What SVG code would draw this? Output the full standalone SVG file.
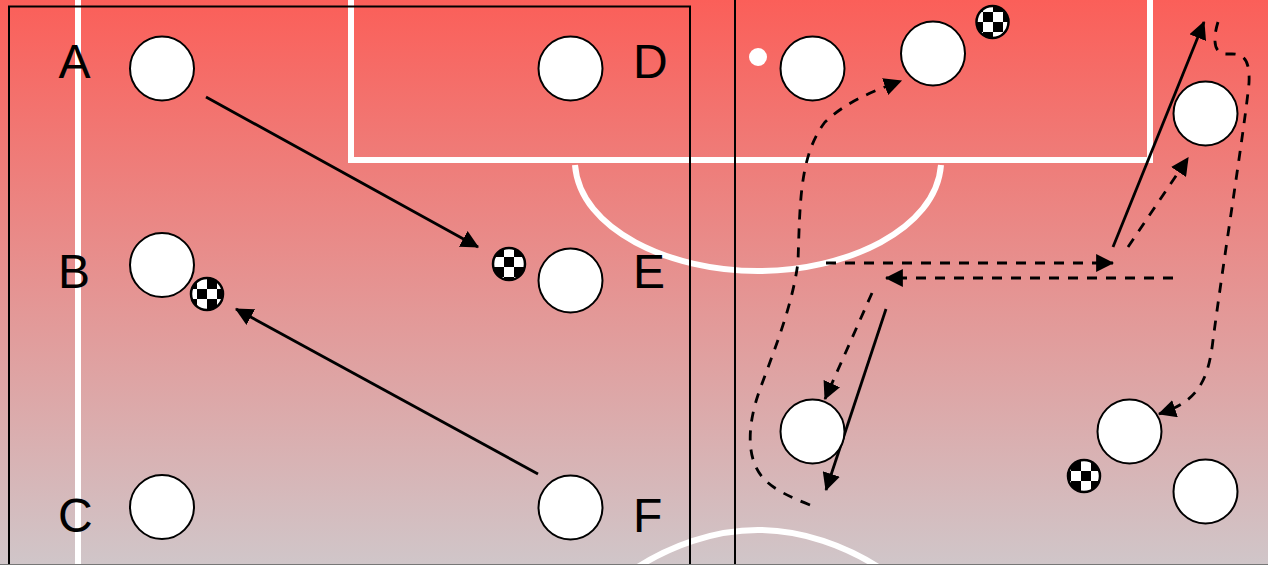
<svg xmlns="http://www.w3.org/2000/svg" width="1268" height="565" viewBox="0 0 1268 565">
<style>
.p{fill:#fff;stroke:#000;stroke-width:2}
.w{fill:none;stroke:#fff;stroke-width:6}
.s{fill:none;stroke:#000;stroke-width:2.8;marker-end:url(#a)}
.d{fill:none;stroke:#000;stroke-width:2.8;stroke-dasharray:10 9;marker-end:url(#a)}
.b{stroke:#000;stroke-width:2.5}
.t{font-family:"Liberation Sans",Arial,sans-serif;font-size:48px;fill:#000}
</style>
<defs>
<linearGradient id="bg" x1="0" y1="0" x2="0" y2="1"><stop offset="0" stop-color="#fb5f59"/><stop offset="1" stop-color="#d0c6c9"/></linearGradient>
<marker id="a" markerUnits="userSpaceOnUse" markerWidth="18" markerHeight="18" viewBox="0 0 16 16" refX="15" refY="8" orient="auto"><path d="M0 0L16 8L0 16Z" fill="#000"/></marker>
<pattern id="c1" patternUnits="userSpaceOnUse" width="20" height="20" x="504" y="257"><rect width="20" height="20" fill="#fff"/><rect width="10" height="10" fill="#000"/><rect x="10" y="10" width="10" height="10" fill="#000"/></pattern>
<pattern id="c2" patternUnits="userSpaceOnUse" width="20" height="20" x="983" y="12"><rect width="20" height="20" fill="#fff"/><rect width="10" height="10" fill="#000"/><rect x="10" y="10" width="10" height="10" fill="#000"/></pattern>
<pattern id="c3" patternUnits="userSpaceOnUse" width="20" height="20" x="197" y="289"><rect width="20" height="20" fill="#fff"/><rect width="10" height="10" fill="#000"/><rect x="10" y="10" width="10" height="10" fill="#000"/></pattern>
<pattern id="c4" patternUnits="userSpaceOnUse" width="20" height="20" x="1081" y="471"><rect width="20" height="20" fill="#fff"/><rect width="10" height="10" fill="#000"/><rect x="10" y="10" width="10" height="10" fill="#000"/></pattern>
</defs>
<rect id="field" width="1268" height="565" fill="url(#bg)"/>
<g id="markings">
<path class="w" d="M78 0V565"/>
<path class="w" d="M351 0V160H1150V0"/>
<path class="w" d="M575 165C580 230 670 271 758 271C846 271 936 230 941 165"/>
<path class="w" d="M630 572C670 545 715 530 758 530C801 530 846 545 886 572"/>
<circle cx="758" cy="57" r="9" fill="#fff"/>
</g>
<rect id="frame" x="9" y="6.500" width="681" height="565" fill="none" stroke="#000" stroke-width="2"/>
<path id="divider" d="M735 0V565" stroke="#000" stroke-width="2" fill="none"/>
<path id="baseline" d="M0 564.500H1268" stroke="#777" stroke-width="1" fill="none"/>
<g id="connectors">
<path class="s" d="M206 97L478 247"/>
<path class="s" d="M538 474L236 309"/>
<path class="s" d="M1113 247L1204 22"/>
<path class="s" d="M886 309L826 490"/>
<path class="d" d="M1128 247L1188 158"/>
<path class="d" d="M826 263H1113"/>
<path class="d" d="M1173 278H886"/>
<path class="d" d="M872 293L825 399"/>
<path class="d" d="M810 505C790 497 775 490 765 480C745 460 748 425 758 395C770 360 792 310 798 262C800 200 800 155 825 122C845 103 870 92 901 81"/>
<path class="d" d="M1218 22C1213 38 1213 54 1226 54H1232C1245 54 1250 62 1249 83C1245 125 1225 250 1213 340C1208 385 1195 402 1159 414"/>
</g>
<g id="players-left">
<g id="node-a"><circle class="p" cx="162" cy="68.500" r="32"/><text class="t" x="58.500" y="78">A</text></g>
<g id="node-b"><circle class="p" cx="162" cy="265" r="32"/><text class="t" x="58" y="288">B</text></g>
<g id="node-c"><circle class="p" cx="162" cy="507" r="32"/><text class="t" x="58" y="532">C</text></g>
<g id="node-d"><circle class="p" cx="570.500" cy="68.500" r="32"/><text class="t" x="633" y="78">D</text></g>
<g id="node-e"><circle class="p" cx="570.500" cy="280.500" r="32"/><text class="t" x="633" y="288">E</text></g>
<g id="node-f"><circle class="p" cx="570.500" cy="507.500" r="32"/><text class="t" x="633" y="532">F</text></g>
</g>
<g id="players-right">
<circle id="r1" class="p" cx="812.500" cy="68.500" r="32"/>
<circle id="r2" class="p" cx="933" cy="53.500" r="32"/>
<circle id="r3" class="p" cx="1205.500" cy="113.500" r="32"/>
<circle id="r4" class="p" cx="812.500" cy="431.500" r="32"/>
<circle id="r5" class="p" cx="1129.500" cy="431.500" r="32"/>
<circle id="r6" class="p" cx="1205.500" cy="491.500" r="32"/>
</g>
<g id="balls">
<circle class="b" cx="509" cy="264" r="16" fill="url(#c1)"/>
<circle class="b" cx="992.500" cy="22" r="16" fill="url(#c2)"/>
<circle class="b" cx="207" cy="294" r="16" fill="url(#c3)"/>
<circle class="b" cx="1084" cy="476" r="16" fill="url(#c4)"/>
</g>
</svg>
